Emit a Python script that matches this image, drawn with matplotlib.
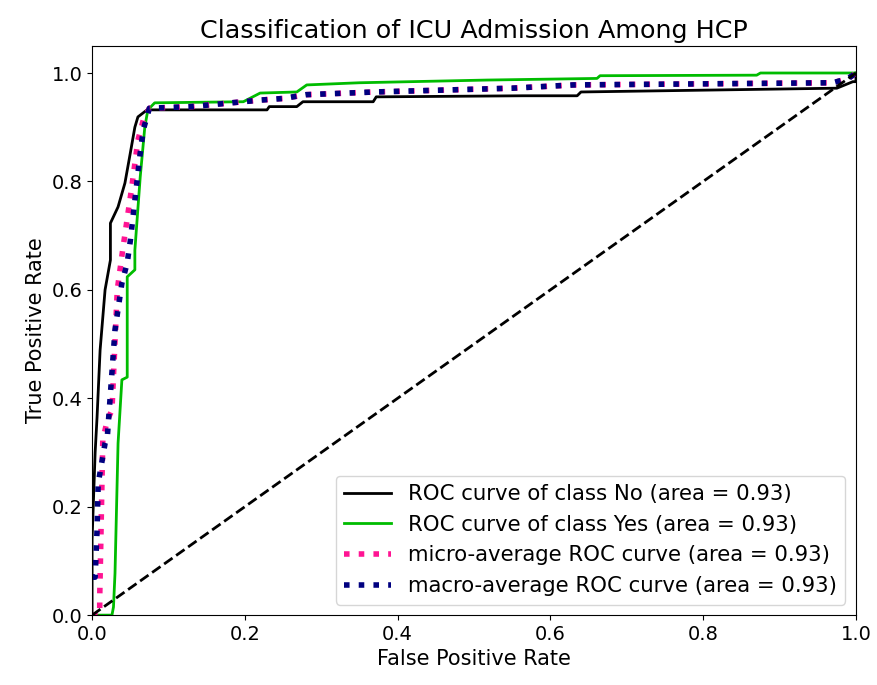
import matplotlib
matplotlib.use("Agg")
import matplotlib.pyplot as plt

# ROC points
fpr_no = [0, 0, 0.004, 0.0065, 0.0105, 0.017, 0.024, 0.024, 0.034, 0.043, 0.05, 0.056, 0.06,
          0.072, 0.229, 0.232, 0.268, 0.276, 0.368, 0.372, 0.564, 0.635, 0.640, 0.975, 0.996, 1.0, 1.0]
tpr_no = [0, 0.14, 0.30, 0.365, 0.489, 0.60, 0.655, 0.723, 0.753, 0.797, 0.852, 0.90, 0.919,
          0.932, 0.932, 0.938, 0.938, 0.947, 0.947, 0.956, 0.958, 0.958, 0.965, 0.972, 0.984, 0.984, 1.0]

fpr_yes = [0, 0.026, 0.028, 0.030, 0.034, 0.039, 0.046, 0.046, 0.056, 0.056, 0.063, 0.069, 0.073,
           0.082, 0.198, 0.22, 0.268, 0.281, 0.35, 0.517, 0.661, 0.665, 0.87, 0.875, 1.0]
tpr_yes = [0, 0, 0.015, 0.077, 0.317, 0.434, 0.439, 0.624, 0.637, 0.673, 0.808, 0.90, 0.932,
           0.945, 0.947, 0.963, 0.965, 0.978, 0.982, 0.987, 0.99, 0.995, 0.996, 1.0, 1.0]

fpr_micro = [0, 0.010, 0.010, 0.014, 0.020, 0.026, 0.033, 0.040, 0.052, 0.060, 0.067, 0.075,
             0.13, 0.22, 0.25, 0.28, 0.37, 0.55, 0.63, 0.97, 0.99, 1.0]
tpr_micro = [0, 0, 0.033, 0.323, 0.36, 0.378, 0.60, 0.673, 0.79, 0.876, 0.913, 0.935,
             0.938, 0.95, 0.953, 0.96, 0.965, 0.972, 0.978, 0.982, 0.99, 1.0]

fpr_macro = [0, 0.004, 0.0065, 0.008, 0.017, 0.02, 0.03, 0.039, 0.046, 0.05, 0.063, 0.067, 0.075,
             0.13, 0.22, 0.25, 0.28, 0.37, 0.55, 0.63, 0.97, 0.99, 1.0]
tpr_macro = [0.07, 0.07, 0.157, 0.243, 0.317, 0.33, 0.526, 0.612, 0.65, 0.69, 0.852, 0.895, 0.935,
             0.938, 0.95, 0.953, 0.96, 0.965, 0.972, 0.978, 0.982, 0.99, 1.0]

classes = ['No', 'Yes']
aucs = [0.93, 0.93]
auc_micro = 0.93
auc_macro = 0.93

fig = plt.figure(figsize=(8.77, 6.85), dpi=100)
ax = fig.add_subplot(111)
fig.subplots_adjust(left=0.105, right=0.976, top=0.933, bottom=0.102)

curves = [(fpr_no, tpr_no), (fpr_yes, tpr_yes)]
for i, (f, t) in enumerate(curves):
    color = plt.cm.nipy_spectral(float(i) / len(classes))
    ax.plot(f, t, lw=2, color=color,
            label='ROC curve of class {0} (area = {1:0.2f})'.format(classes[i], aucs[i]))

ax.plot(fpr_micro, tpr_micro, label='micro-average ROC curve (area = {0:0.2f})'.format(auc_micro),
        color='deeppink', linestyle=':', linewidth=4)
ax.plot(fpr_macro, tpr_macro, label='macro-average ROC curve (area = {0:0.2f})'.format(auc_macro),
        color='navy', linestyle=':', linewidth=4)

ax.plot([0, 1], [0, 1], 'k--', lw=2)
ax.set_xlim([0.0, 1.0])
ax.set_ylim([0.0, 1.05])
ax.set_xlabel('False Positive Rate', fontsize=15)
ax.set_ylabel('True Positive Rate', fontsize=15)
ax.set_title('Classification of ICU Admission Among HCP', fontsize=18.3)
ax.tick_params(labelsize=14)
ax.legend(loc='lower right', fontsize=15.3, handlelength=2.2)

fig.savefig('out.png')
